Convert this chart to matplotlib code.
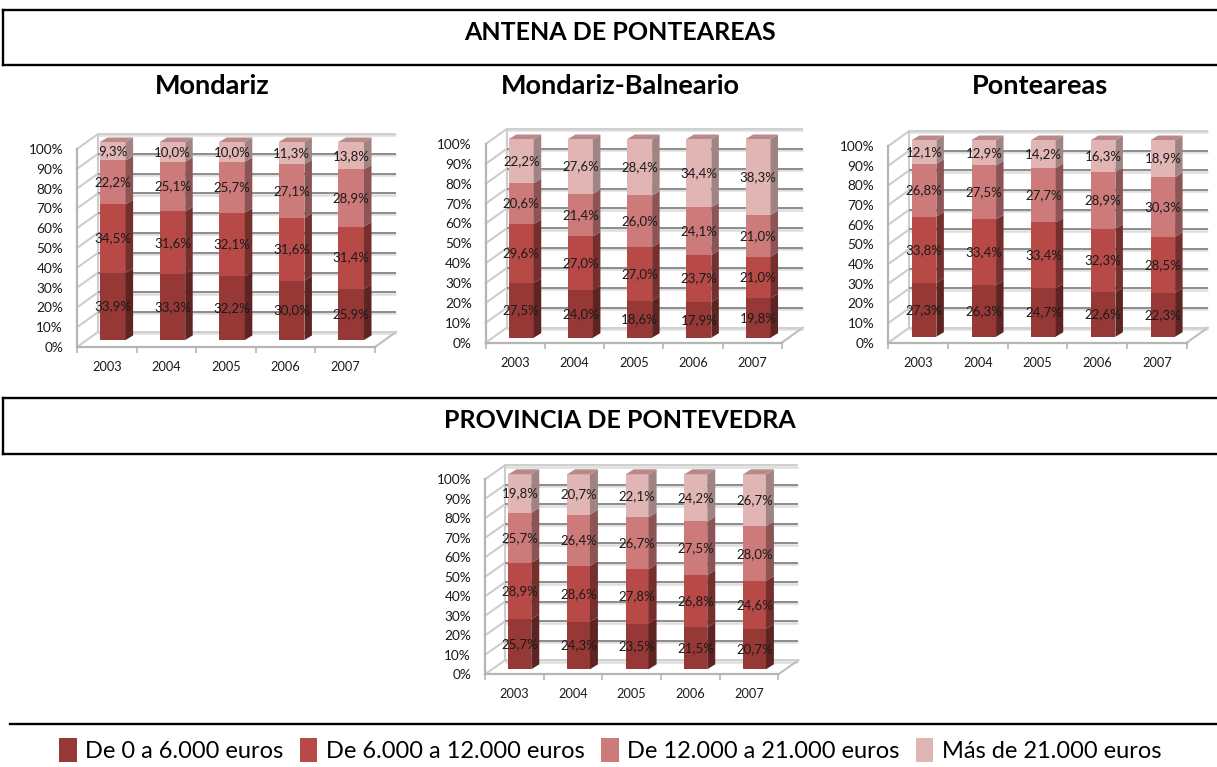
import numpy as np
import matplotlib
matplotlib.use('Agg')
import matplotlib.pyplot as plt
from matplotlib.transforms import ScaledTranslation
from matplotlib.patches import Polygon, Rectangle
from matplotlib.lines import Line2D

# ---------------- data ----------------
years = ['2003', '2004', '2005', '2006', '2007']
series_names = ['De 0 a 6.000 euros', 'De 6.000 a 12.000 euros',
                'De 12.000 a 21.000 euros', 'Más de 21.000 euros']

mondariz_s1 = [33.9, 33.3, 32.2, 30.0, 25.9]
mondariz_s2 = [34.5, 31.6, 32.1, 31.6, 31.4]
mondariz_s3 = [22.2, 25.1, 25.7, 27.1, 28.9]
mondariz_s4 = [9.3, 10.0, 10.0, 11.3, 13.8]

balneario_s1 = [27.5, 24.0, 18.6, 17.9, 19.8]
balneario_s2 = [29.6, 27.0, 27.0, 23.7, 21.0]
balneario_s3 = [20.6, 21.4, 26.0, 24.1, 21.0]
balneario_s4 = [22.2, 27.6, 28.4, 34.4, 38.3]

ponteareas_s1 = [27.3, 26.3, 24.7, 22.6, 22.3]
ponteareas_s2 = [33.8, 33.4, 33.4, 32.3, 28.5]
ponteareas_s3 = [26.8, 27.5, 27.7, 28.9, 30.3]
ponteareas_s4 = [12.1, 12.9, 14.2, 16.3, 18.9]

provincia_s1 = [25.7, 24.3, 23.5, 21.5, 20.7]
provincia_s2 = [28.9, 28.6, 27.8, 26.8, 24.6]
provincia_s3 = [25.7, 26.4, 26.7, 27.5, 28.0]
provincia_s4 = [19.8, 20.7, 22.1, 24.2, 26.7]

front_colors = ['#963836', '#B74A47', '#CD7B7A', '#E2B5B5']
side_colors = ['#5D2422', '#752F2D', '#8C5454', '#A08383']
top_color = '#B98888'

FONT = ['Lato', 'DejaVu Sans']
plt.rcParams['font.family'] = FONT

W, H, DPI = 1217, 767, 100
fig = plt.figure(figsize=(W / DPI, H / DPI), dpi=DPI)
fig.patch.set_facecolor('white')


def fx(px):
    return px / W


def fy(py):
    return 1 - py / H


def hline(x0, x1, y, lw=1.7):
    fig.add_artist(Line2D([fx(x0), fx(x1)], [fy(y), fy(y)], color='black', lw=lw,
                          transform=fig.transFigure))


def vline(x, y0, y1, lw=1.7):
    fig.add_artist(Line2D([fx(x), fx(x)], [fy(y0), fy(y1)], color='black', lw=lw,
                          transform=fig.transFigure))


def chart(box, series, front_off, bar_w, wall=(21, 15), depth=(7.5, 4.5)):
    x0, x1, y0, y1 = box   # pixel: left, right, y of 0%, y of 100%
    ax = fig.add_axes([fx(x0), fy(y0), (x1 - x0) / W, (y0 - y1) / H])
    ax.set_facecolor('none')
    ax.set_xlim(-0.5, 4.5)
    ax.set_ylim(0, 100)
    pxx = (x1 - x0) / 5.0
    pxy = (y0 - y1) / 100.0
    wdx, wdy = wall[0] / pxx, wall[1] / pxy
    ddx, ddy = depth[0] / pxx, depth[1] / pxy

    # walls / grid
    for v in range(0, 101, 10):
        light = v in (0, 100)
        ax.plot([-0.5 + wdx, 4.5 + wdx], [v + wdy - 1.2 / pxy] * 2, color='#dedede',
                lw=1.8, zorder=1, clip_on=False, solid_capstyle='butt')
        ax.plot([-0.5 + wdx, 4.5 + wdx], [v + wdy] * 2,
                color='#cfcfcf' if light else '#8c8c8c', lw=1.4, zorder=1.1,
                clip_on=False, solid_capstyle='butt')
        ax.plot([-0.5, -0.5 + wdx], [v, v + wdy], color='#cdcdcd', lw=1.5,
                zorder=1, clip_on=False)
    ax.plot([-0.5 + wdx] * 2, [wdy, 100 + wdy], color='#cdcdcd', lw=1.5, zorder=1,
            clip_on=False)
    ax.plot([4.5, 4.5 + wdx], [0, wdy], color='#bdbdbd', lw=1.5, zorder=1,
            clip_on=False)

    # bars
    s = np.array(series, dtype=float)
    tot = s.sum(axis=0)
    pct = s / tot * 100
    x = np.arange(len(years))
    tr = ax.transData + ScaledTranslation(front_off[0] / DPI, front_off[1] / DPI,
                                          fig.dpi_scale_trans)
    bottom = np.zeros(len(years))
    for k in range(pct.shape[0]):
        ax.bar(x, pct[k], bottom=bottom, width=bar_w, color=front_colors[k],
               transform=tr, zorder=3, clip_on=False, linewidth=0)
        for i in range(len(years)):
            b, t = bottom[i], bottom[i] + pct[k][i]
            xr = x[i] + bar_w / 2
            ax.add_patch(Polygon([(xr, b), (xr + ddx, b + ddy), (xr + ddx, t + ddy),
                                  (xr, t)], closed=True, facecolor=side_colors[k],
                                 edgecolor='none', transform=tr, zorder=3,
                                 clip_on=False))
            ax.text(x[i], (b + t) / 2, f"{series[k][i]:.1f}".replace('.', ',') + '%',
                    ha='center', va='center', fontsize=9.5, color='#1a1a1a',
                    transform=tr, zorder=5, clip_on=False)
        bottom = bottom + pct[k]
    for i in range(len(years)):
        xl, xr = x[i] - bar_w / 2, x[i] + bar_w / 2
        t = bottom[i]
        ax.add_patch(Polygon([(xl, t), (xr, t), (xr + ddx, t + ddy), (xl + ddx, t + ddy)],
                             closed=True, facecolor=top_color, edgecolor='none',
                             transform=tr, zorder=3, clip_on=False))

    # axes
    for side in ('top', 'right'):
        ax.spines[side].set_visible(False)
    for side in ('left', 'bottom'):
        ax.spines[side].set_color('#b5b5b5')
        ax.spines[side].set_linewidth(1.6)
        ax.spines[side].set_zorder(2)
    ax.set_yticks(range(0, 101, 10))
    ax.set_yticklabels([f'{v}%' for v in range(0, 101, 10)])
    ax.tick_params(axis='y', length=0, pad=10, labelsize=9.8, labelcolor='#1a1a1a')
    ax.set_xticks(x)
    ax.set_xticklabels(years)
    ax.set_xticks(np.arange(-0.5, 5, 1), minor=True)
    ax.tick_params(axis='x', which='major', length=0, pad=10, labelsize=9.2,
                   labelcolor='#1a1a1a')
    ax.tick_params(axis='x', which='minor', length=4, width=1.2, color='#b5b5b5',
                   direction='out')
    return ax


chart((77, 375, 347, 149),
      [mondariz_s1, mondariz_s2, mondariz_s3, mondariz_s4], (6, 7), 0.43)
chart((485.7, 781.7, 342.7, 144),
      [balneario_s1, balneario_s2, balneario_s3, balneario_s4], (6, 5), 0.42)
chart((888.3, 1186.7, 342.7, 146),
      [ponteareas_s1, ponteareas_s2, ponteareas_s3, ponteareas_s4], (6, 6), 0.41)
chart((485, 778.3, 674.3, 479.3),
      [provincia_s1, provincia_s2, provincia_s3, provincia_s4], (5.5, 5), 0.39,
      wall=(20, 14), depth=(8, 5))

# ---------------- frames & titles ----------------
hline(3, W, 10)
vline(3, 10, 65)
hline(3, W, 65)
hline(3, W, 398)
vline(3, 398, 454)
hline(3, W, 454)
hline(10, W, 724)

fig.text(fx(620), fy(32), 'ANTENA DE PONTEAREAS', ha='center', va='center',
         fontsize=18, fontweight='bold')
fig.text(fx(620), fy(420), 'PROVINCIA DE PONTEVEDRA', ha='center', va='center',
         fontsize=18, fontweight='bold')
fig.text(fx(212), fy(86), 'Mondariz', ha='center', va='center', fontsize=19.5,
         fontweight='bold')
fig.text(fx(620), fy(86), 'Mondariz-Balneario', ha='center', va='center',
         fontsize=19.5, fontweight='bold')
fig.text(fx(1040), fy(86), 'Ponteareas', ha='center', va='center', fontsize=19.5,
         fontweight='bold')

handles = [Rectangle((0, 0), 1, 1, facecolor=c, edgecolor='none') for c in front_colors]
fig.legend(handles, series_names, loc='center', bbox_to_anchor=(fx(610), fy(750)),
           ncol=4, frameon=False, fontsize=17, handlelength=0.75, handleheight=1.15,
           handletextpad=0.35, columnspacing=0.7, borderaxespad=0)

fig.savefig('out.png', dpi=DPI, facecolor='white')
